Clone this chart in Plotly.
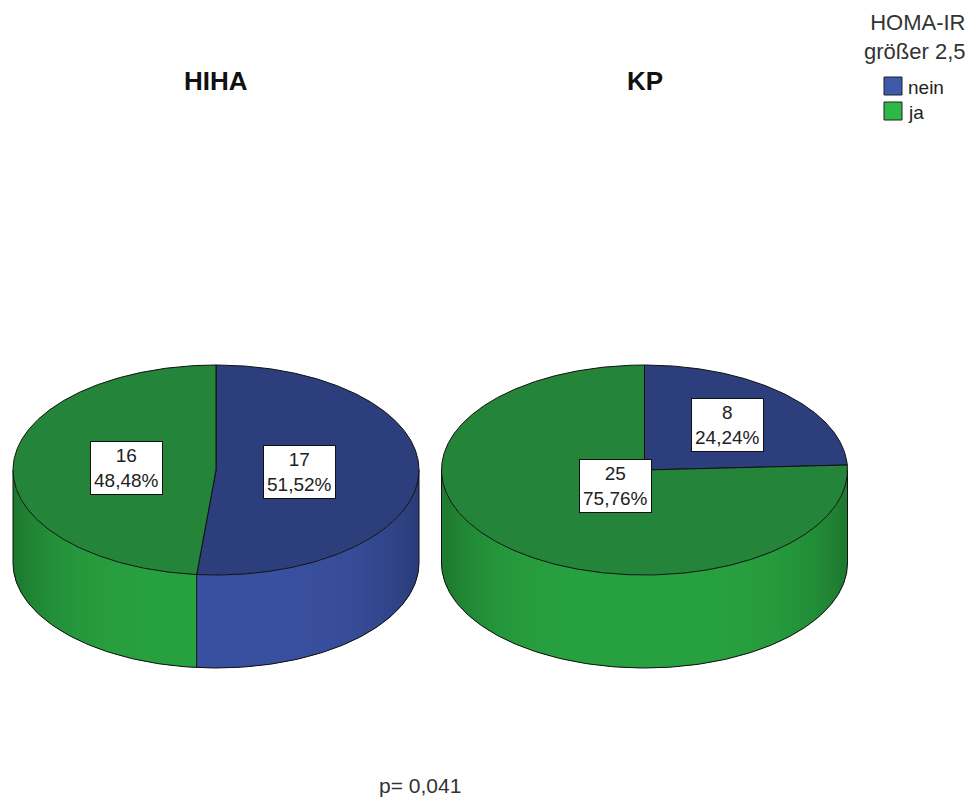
import numpy as np
import plotly.graph_objects as go

# ---- data -------------------------------------------------------------
groups = ["HIHA", "KP"]
categories = ["nein", "ja"]
counts = {
    "HIHA": [17, 16],
    "KP": [8, 25],
}
legend_title = "HOMA-IR<br>größer 2,5"
p_value_text = "p= 0,041"

# ---- style ------------------------------------------------------------
W, H = 971, 809
FONT = "Liberation Sans, Arial, sans-serif"
CENTERS = {"HIHA": (216.0, 470.0), "KP": (644.5, 470.0)}
RX, RY, DEPTH = 203.0, 105.0, 93.0
TOP_COLORS = {"nein": "#2c3e7c", "ja": "#23843a"}
SIDE_COLORS = {"nein": "#3a50a0", "ja": "#28a140"}
KEY_COLORS = {"nein": "#3e58ac", "ja": "#2eb848"}
LABEL_RADII = {"HIHA": [0.41, 0.44], "KP": [0.59, 0.21]}
TITLE_Y = 81
STRIP_DEG = 2.0
KEY_X, KEY_Y0, KEY_SIZE, KEY_PITCH = 884, 77, 18, 25


def rim_point(cx, cy, deg, dy=0.0):
    """Point on the rim ellipse; angle measured clockwise from 12 o'clock."""
    t = np.radians(deg)
    return cx + RX * np.sin(t), cy - RY * np.cos(t) + dy


def arc(cx, cy, a0, a1, dy=0.0, step=1.0):
    n = max(2, int(np.ceil(abs(a1 - a0) / step)) + 1)
    angs = np.linspace(a0, a1, n)
    xs, ys = rim_point(cx, cy, angs, dy)
    return list(xs), list(ys)


def shade(hex_color, deg):
    """Darken the side wall towards the left and right silhouette."""
    s = abs(np.sin(np.radians(deg)))
    f = 1.0 - 0.26 * s ** 4
    h = hex_color.lstrip("#")
    r, g, b = (int(h[i:i + 2], 16) for i in (0, 2, 4))
    return "rgb({},{},{})".format(int(r * f), int(g * f), int(b * f))


def wall(cx, cy, a0, a1, color):
    tx, ty = arc(cx, cy, a0, a1, step=0.5)
    bx, by = arc(cx, cy, a1, a0, dy=DEPTH, step=0.5)
    return go.Scatter(x=tx + bx, y=ty + by, mode="lines", fill="toself",
                      fillcolor=color, line=dict(width=0),
                      hoverinfo="skip", showlegend=False)


fig = go.Figure()
annotations = []
shapes = []

for grp in groups:
    cx, cy = CENTERS[grp]
    vals = np.array(counts[grp], dtype=float)
    total = vals.sum()
    fracs = vals / total
    bounds = np.concatenate([[0.0], np.cumsum(fracs) * 360.0])

    # side wall: only the front half (90..270 deg) is visible
    for i, cat in enumerate(categories):
        a0, a1 = max(bounds[i], 90.0), min(bounds[i + 1], 270.0)
        if a1 <= a0:
            continue
        # solid base, then overlapping shaded strips so no seams show
        fig.add_trace(wall(cx, cy, a0, a1, SIDE_COLORS[cat]))
        n = max(1, int(np.ceil((a1 - a0) / STRIP_DEG)))
        edges = np.linspace(a0, a1, n + 1)
        for t0, t1 in zip(edges[:-1], edges[1:]):
            col = shade(SIDE_COLORS[cat], 0.5 * (t0 + t1))
            fig.add_trace(wall(cx, cy, t0, min(t1 + 0.6, a1), col))

    # side wall outlines: silhouette edges, bottom rim, slice seams
    ox, oy = [], []
    for deg in (90.0, 270.0):
        x0, y0 = rim_point(cx, cy, deg)
        ox += [x0, x0, None]
        oy += [y0, y0 + DEPTH, None]
    bx, by = arc(cx, cy, 90.0, 270.0, dy=DEPTH)
    ox += bx + [None]
    oy += by + [None]
    for b in bounds[1:-1]:
        if 90.0 < b < 270.0:
            x0, y0 = rim_point(cx, cy, b)
            ox += [x0, x0, None]
            oy += [y0, y0 + DEPTH, None]
    fig.add_trace(go.Scatter(x=ox, y=oy, mode="lines",
                             line=dict(color="#111111", width=1),
                             hoverinfo="skip", showlegend=False))

    # top face slices
    for i, cat in enumerate(categories):
        ax, ay = arc(cx, cy, bounds[i], bounds[i + 1], step=0.5)
        fig.add_trace(go.Scatter(
            x=[cx] + ax + [cx], y=[cy] + ay + [cy], mode="lines",
            fill="toself", fillcolor=TOP_COLORS[cat],
            line=dict(color="#111111", width=1),
            hoverinfo="skip", showlegend=False))

    # value labels
    for i, cat in enumerate(categories):
        mid = 0.5 * (bounds[i] + bounds[i + 1])
        f = LABEL_RADII[grp][i]
        t = np.radians(mid)
        lx = cx + f * RX * np.sin(t)
        ly = cy - f * RY * np.cos(t)
        pct = "{:.2f}".format(fracs[i] * 100).replace(".", ",")
        annotations.append(dict(
            x=lx, y=ly, xref="x", yref="y", showarrow=False,
            text="{}<br>{}%".format(int(vals[i]), pct),
            font=dict(family=FONT, size=19, color="#222222"),
            bgcolor="white", bordercolor="#111111", borderwidth=1,
            borderpad=3, align="center"))

    # group title
    annotations.append(dict(
        x=cx, y=TITLE_Y, xref="x", yref="y", showarrow=False,
        text="<b>{}</b>".format(grp),
        font=dict(family=FONT, size=26, color="#111111")))

# legend: title and colour keys
annotations.append(dict(
    x=968, y=8, xref="x", yref="y", xanchor="right", yanchor="top",
    showarrow=False, text=legend_title, align="right",
    font=dict(family=FONT, size=22, color="#333333")))

for k, cat in enumerate(categories):
    y0 = KEY_Y0 + k * KEY_PITCH
    shapes.append(dict(
        type="rect", xref="x", yref="y",
        x0=KEY_X, x1=KEY_X + KEY_SIZE, y0=y0, y1=y0 + KEY_SIZE,
        fillcolor=KEY_COLORS[cat], line=dict(color="#222222", width=1)))
    annotations.append(dict(
        x=KEY_X + KEY_SIZE + 4, y=y0 + KEY_SIZE / 2 + 1, xref="x", yref="y",
        xanchor="left", yanchor="middle", showarrow=False, text=cat,
        font=dict(family=FONT, size=19, color="#222222")))

annotations.append(dict(
    x=420, y=785, xref="x", yref="y", showarrow=False,
    text=p_value_text,
    font=dict(family=FONT, size=21, color="#333333")))

fig.update_layout(
    width=W, height=H,
    margin=dict(l=0, r=0, t=0, b=0),
    paper_bgcolor="white", plot_bgcolor="white",
    xaxis=dict(range=[0, W], visible=False, fixedrange=True),
    yaxis=dict(range=[H, 0], visible=False, fixedrange=True),
    annotations=annotations,
    shapes=shapes,
    showlegend=False,
)

fig.write_html("out.html")
